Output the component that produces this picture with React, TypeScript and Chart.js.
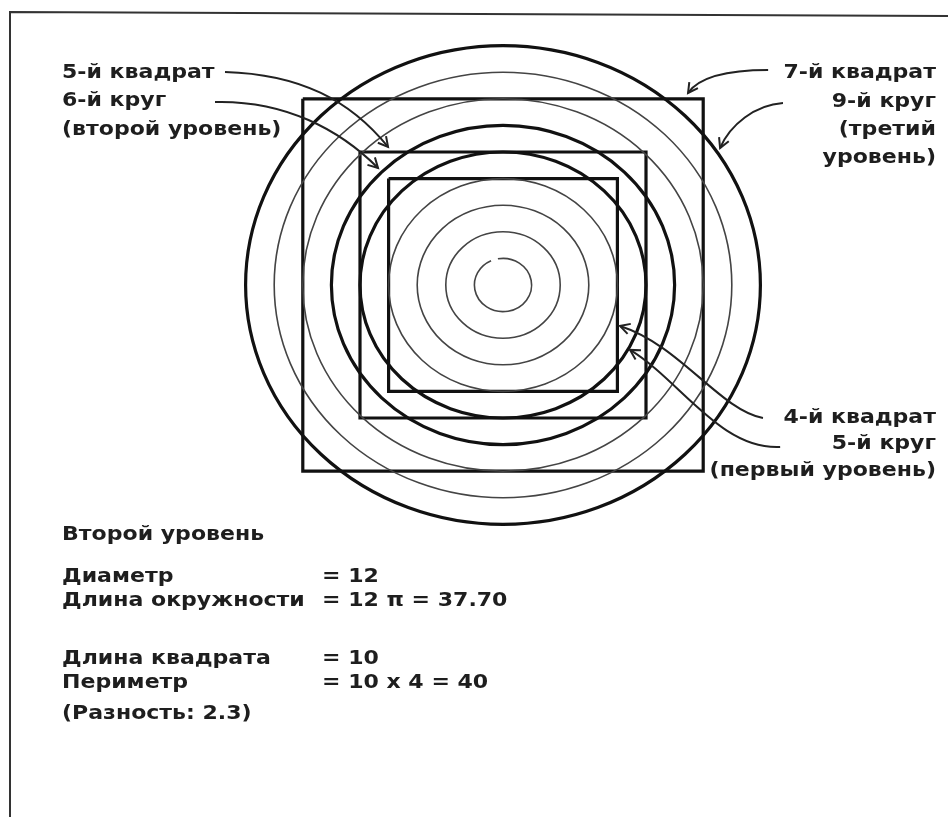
import { useEffect, useRef } from 'react';
import { Chart, registerables } from 'chart.js';

Chart.register(...registerables);

// Concentric circles: radius n units (diameter 2n)
const circleRadii = [1, 2, 3, 4, 5, 6, 7, 8, 9];
const thickCircles = [5, 6, 9];
// Squares: k-th square has side 2k units
const squareNumbers = [4, 5, 7];
const squareSides = [8, 10, 14];

// Callout curves (cubic bezier in data units): x0,y0,x1,y1,x2,y2,x3,y3
const arrowPaths = [
  [-9.72, 8.01, -7.1, 7.93, -5.35, 6.95, -4.02, 5.19],
  [-10.07, 6.88, -7.62, 6.95, -5.7, 5.83, -4.37, 4.4],
  [9.27, 8.08, 7.94, 8.08, 6.89, 7.86, 6.47, 7.22],
  [9.79, 6.84, 8.81, 6.77, 7.94, 6.02, 7.59, 5.15],
  [9.09, -5.0, 7.59, -4.7, 6.19, -2.26, 4.09, -1.54],
  [9.69, -6.09, 7.59, -6.2, 6.19, -3.57, 4.44, -2.44],
];

const leftLabels = ['5-й квадрат', '6-й круг', '(второй уровень)'];
const rightTopLabels = ['7-й квадрат', '9-й круг', '(третий', 'уровень)'];
const rightBottomLabels = ['4-й квадрат', '5-й круг', '(первый уровень)'];
const summaryTitle = 'Второй уровень';
const summaryNames = ['Диаметр', 'Длина окружности', 'Длина квадрата', 'Периметр'];
const summaryValues = ['= 12', '= 12 π = 37.70', '= 10', '= 10 x 4 = 40'];
const summaryNote = '(Разность: 2.3)';

const X_MIN = -17.587;
const X_MAX = 15.559;
const Y_MIN = -20.0;
const Y_MAX = 10.714;

const FONT = 'bold 19px "DejaVu Sans"';
const STRETCH = 1.16;

function drawText(ctx: CanvasRenderingContext2D, text: string, x: number, y: number, align: 'left' | 'right') {
  ctx.save();
  ctx.font = FONT;
  ctx.textBaseline = 'middle';
  ctx.textAlign = align;
  ctx.translate(x, y);
  ctx.scale(STRETCH, 1);
  ctx.fillText(text, 0, 0);
  ctx.restore();
}

const diagramPlugin = {
  id: 'diagram',
  afterDatasetsDraw(chart: any) {
    const ctx: CanvasRenderingContext2D = chart.ctx;
    const xs = chart.scales.x;
    const ys = chart.scales.y;
    const cx = xs.getPixelForValue(0);
    const cy = ys.getPixelForValue(0);
    ctx.save();
    // frame
    ctx.strokeStyle = '#333';
    ctx.lineWidth = 2;
    ctx.beginPath();
    ctx.moveTo(10, 817);
    ctx.lineTo(10, 12);
    ctx.lineTo(948, 16);
    ctx.stroke();

    // circles
    circleRadii.forEach((r) => {
      const rx = xs.getPixelForValue(r) - cx;
      const ry = cy - ys.getPixelForValue(r);
      const thick = thickCircles.includes(r);
      ctx.strokeStyle = thick ? '#111' : '#444';
      ctx.lineWidth = thick ? 3.2 : 1.6;
      ctx.beginPath();
      if (r === 1) {
        ctx.ellipse(cx, cy, rx, ry, 0, -1.75, -1.75 + Math.PI * 1.92);
      } else {
        ctx.ellipse(cx, cy, rx, ry, 0, 0, Math.PI * 2);
      }
      ctx.stroke();
    });

    // arrows
    ctx.strokeStyle = '#222';
    ctx.lineWidth = 2;
    arrowPaths.forEach((p) => {
      const pts = [] as number[][];
      for (let i = 0; i < 4; i++) pts.push([xs.getPixelForValue(p[i * 2]), ys.getPixelForValue(p[i * 2 + 1])]);
      ctx.beginPath();
      ctx.moveTo(pts[0][0], pts[0][1]);
      ctx.bezierCurveTo(pts[1][0], pts[1][1], pts[2][0], pts[2][1], pts[3][0], pts[3][1]);
      ctx.stroke();
      const ang = Math.atan2(pts[3][1] - pts[2][1], pts[3][0] - pts[2][0]);
      const L = 11;
      ctx.beginPath();
      ctx.moveTo(pts[3][0] - L * Math.cos(ang - 0.5), pts[3][1] - L * Math.sin(ang - 0.5));
      ctx.lineTo(pts[3][0], pts[3][1]);
      ctx.lineTo(pts[3][0] - L * Math.cos(ang + 0.5), pts[3][1] - L * Math.sin(ang + 0.5));
      ctx.stroke();
    });

    // labels
    ctx.fillStyle = '#1e1e1e';
    const leftY = [73, 101, 130];
    leftLabels.forEach((t, i) => drawText(ctx, t, 62, leftY[i], 'left'));
    const rtY = [73, 102, 130, 158];
    rightTopLabels.forEach((t, i) => drawText(ctx, t, 936, rtY[i], 'right'));
    const rbY = [418, 444, 471];
    rightBottomLabels.forEach((t, i) => drawText(ctx, t, 936, rbY[i], 'right'));

    drawText(ctx, summaryTitle, 62, 535, 'left');
    const sY = [577, 601, 659, 683];
    summaryNames.forEach((t, i) => drawText(ctx, t, 62, sY[i], 'left'));
    summaryValues.forEach((t, i) => drawText(ctx, t, 322, sY[i], 'left'));
    drawText(ctx, summaryNote, 62, 714, 'left');
    ctx.restore();
  },
};

export default function App() {
  const ref = useRef<HTMLCanvasElement>(null);
  useEffect(() => {
    if (!ref.current) return;
    const datasets = squareNumbers.map((n, i) => {
      const h = squareSides[i] / 2;
      return {
        label: `${n}-й квадрат`,
        data: [
          { x: -h, y: h },
          { x: h, y: h },
          { x: h, y: -h },
          { x: -h, y: -h },
          { x: -h, y: h },
        ],
        showLine: true,
        borderColor: '#111',
        borderWidth: 3.2,
        pointRadius: 0,
        fill: false,
        tension: 0,
      };
    });
    const chart = new Chart(ref.current, {
      type: 'scatter',
      data: { datasets },
      options: {
        animation: false,
        responsive: false,
        layout: { padding: 0 },
        plugins: { legend: { display: false }, tooltip: { enabled: false } },
        scales: {
          x: { type: 'linear', min: X_MIN, max: X_MAX, display: false },
          y: { type: 'linear', min: Y_MIN, max: Y_MAX, display: false },
        },
      },
      plugins: [diagramPlugin],
    });
    return () => chart.destroy();
  }, []);
  return (
    <div style={{ position: 'absolute', left: 0, top: 0, width: 948, height: 817, background: '#fff' }}>
      <canvas ref={ref} width={948} height={817} />
    </div>
  );
}
